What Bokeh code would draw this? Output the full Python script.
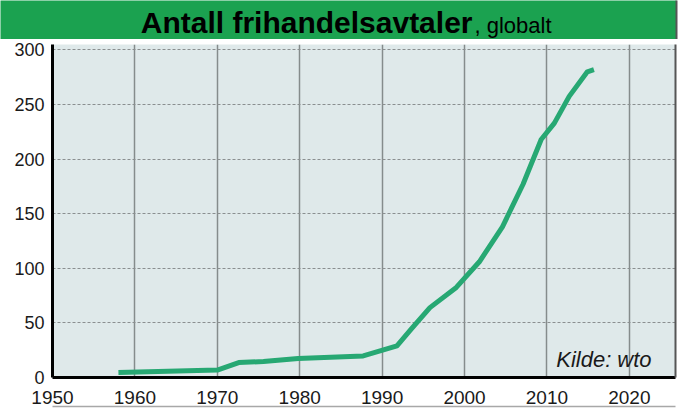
from bokeh.plotting import figure
from bokeh.models import Label, FixedTicker, LinearAxis
from bokeh.layouts import column
from bokeh.embed import file_html
from bokeh.resources import INLINE

# Data
years = [1958, 1970, 1972.6, 1975.6, 1979.8, 1987.7, 1991.8, 1993.6, 1995.8, 1999.0,
         2001.8, 2004.6, 2007.1, 2009.3, 2010.9, 2012.7, 2014.9, 2015.7]
agreements = [4.6, 6.8, 13.7, 14.6, 17.4, 19.8, 29, 45, 64, 82.5,
              106, 138, 177, 218, 233, 257.5, 280, 282]
x_ticks = [1950, 1960, 1970, 1980, 1990, 2000, 2010, 2020]
y_ticks = [0, 50, 100, 150, 200, 250, 300]
title_main = "Antall frihandelsavtaler"
title_sub = ", globalt"
source_note = "Kilde: wto"

FONT = "Liberation Sans"
HEADER_H = 39


def border_axis(color, width):
    ax = LinearAxis(ticker=FixedTicker(ticks=[]), major_label_text_font_size="0px",
                    axis_line_color=color, axis_line_width=width,
                    major_tick_line_color=None, minor_tick_line_color=None,
                    major_tick_in=0, major_tick_out=0, major_label_standoff=0)
    return ax


# ---- header band ----
h = figure(width=680, height=HEADER_H, output_backend="svg", toolbar_location=None,
           x_range=(0, 676), y_range=(0, HEADER_H),
           min_border_left=0, min_border_right=4, min_border_top=0, min_border_bottom=0)
h.frame_align = False
h.axis.visible = False
h.grid.visible = False
h.outline_line_color = None
h.background_fill_color = "#1ba250"
h.border_fill_color = "white"
h.add_layout(border_axis("#555555", 2), "right")
h.add_layout(Label(x=472, y=HEADER_H - 22, text=title_main, text_font=FONT,
                   text_font_style="bold", text_font_size="30px", text_color="black",
                   text_align="right", text_baseline="middle"))
h.add_layout(Label(x=474, y=HEADER_H - 25, text=title_sub, text_font=FONT,
                   text_font_size="22px", text_color="black", text_align="left",
                   text_baseline="middle"))

# ---- main chart ----
p = figure(width=680, height=420 - HEADER_H, output_backend="svg", toolbar_location=None,
           x_range=(1950, 2025.6), y_range=(0, 305),
           min_border_left=52, min_border_right=5, min_border_top=5, min_border_bottom=43)
p.frame_align = False
p.background_fill_color = "#dfe9ea"
p.border_fill_color = "white"
p.outline_line_color = None

p.xgrid.ticker = FixedTicker(ticks=x_ticks)
p.ygrid.ticker = FixedTicker(ticks=y_ticks)
p.xgrid.grid_line_color = "#858c8c"
p.xgrid.grid_line_width = 1.5
p.ygrid.grid_line_color = "#8a8f90"
p.ygrid.grid_line_width = 1
p.ygrid.grid_line_dash = "3 2"

for ax, ticks in ((p.xaxis[0], x_ticks), (p.yaxis[0], y_ticks)):
    ax.ticker = FixedTicker(ticks=ticks)
    ax.axis_line_color = "black"
    ax.axis_line_width = 3
    ax.major_tick_line_color = None
    ax.minor_tick_line_color = None
    ax.major_tick_in = 0
    ax.major_tick_out = 0
    ax.major_label_text_font = FONT
    ax.major_label_text_color = "#1a1a1a"
p.xaxis.major_label_text_font_size = "19px"
p.yaxis.major_label_text_font_size = "18px"
p.xaxis.major_label_standoff = 13
p.yaxis.major_label_standoff = 8

# outer frame lines of the graphic
p.add_layout(border_axis("#555555", 2), "right")
p.add_layout(border_axis("#a8a8a8", 1.5), "below")

p.line(years, agreements, line_color="#27a873", line_width=5, line_join="round")

p.add_layout(Label(x=2022.7, y=16.5, text=source_note, text_font=FONT,
                   text_font_style="italic", text_font_size="22px", text_color="#1a1a1a",
                   text_align="right", text_baseline="middle"))

layout = column(h, p, spacing=0)
open("out.html", "w").write(file_html(layout, INLINE))
